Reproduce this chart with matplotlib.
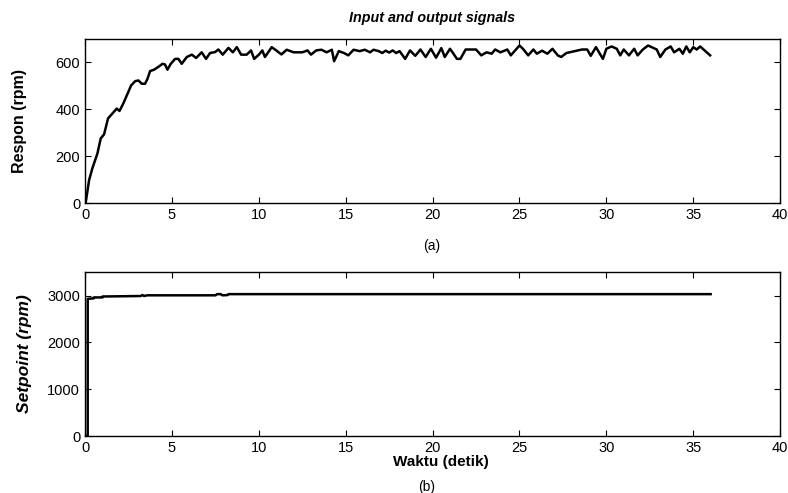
import matplotlib
matplotlib.use("Agg")
import matplotlib.pyplot as plt

plt.rcParams['font.family'] = ['Liberation Sans', 'DejaVu Sans']

# response (rpm)
t_resp = [0.0, 0.04, 0.23, 0.42, 0.71, 0.9, 1.09, 1.32, 1.57, 1.82, 1.98, 2.2, 2.4, 2.65, 2.88,
          3.07, 3.26, 3.45, 3.59, 3.74, 3.97, 4.26, 4.45, 4.6, 4.74, 4.93, 5.18, 5.37, 5.56,
          5.85, 6.14, 6.39, 6.71, 6.96, 7.19, 7.48, 7.67, 7.92, 8.25, 8.5, 8.73, 8.98, 9.3,
          9.55, 9.73, 10.0, 10.2, 10.35, 10.74, 11.0, 11.3, 11.6, 12.0, 12.5, 12.8, 13.0,
          13.3, 13.6, 13.9, 14.2, 14.33, 14.6, 14.9, 15.15, 15.45, 15.8, 16.1, 16.4, 16.6,
          16.9, 17.1, 17.3, 17.5, 17.7, 17.9, 18.1, 18.42, 18.7, 19.0, 19.3, 19.6, 19.9,
          20.2, 20.5, 20.7, 21.0, 21.2, 21.4, 21.6, 21.9, 22.5, 22.8, 23.1, 23.4, 23.6,
          23.9, 24.3, 24.5, 24.8, 25.0, 25.2, 25.5, 25.8, 26.0, 26.3, 26.6, 26.9, 27.2,
          27.4, 27.7, 28.0, 28.3, 28.6, 28.9, 29.1, 29.4, 29.6, 29.8, 30.0, 30.3, 30.6,
          30.8, 31.0, 31.3, 31.6, 31.8, 32.1, 32.4, 32.6, 32.9, 33.1, 33.4, 33.7, 33.9,
          34.2, 34.4, 34.6, 34.8, 35.0, 35.2, 35.4, 35.97]
resp = [0, 5, 98, 149, 212, 276, 293, 361, 382, 403, 393, 425, 459, 502, 520,
        523, 509, 509, 530, 563, 569, 583, 594, 591, 569, 594, 615, 615, 594,
        623, 633, 619, 643, 615, 640, 644, 655, 633, 662, 643, 665, 633, 633,
        651, 615, 633, 651, 623, 665, 651, 634, 654, 643, 643, 651, 633,
        651, 654, 643, 654, 605, 648, 640, 630, 654, 648, 654, 643, 654,
        648, 640, 650, 642, 651, 640, 648, 615, 651, 628, 655, 623, 658,
        620, 661, 623, 658, 637, 615, 615, 655, 655, 630, 643, 637, 655,
        643, 655, 630, 655, 672, 658, 630, 655, 637, 650, 637, 658, 630,
        623, 640, 645, 650, 655, 655, 628, 665, 640, 615, 658, 668, 658,
        630, 655, 630, 658, 630, 655, 672, 665, 655, 623, 655, 668, 643,
        658, 637, 668, 643, 665, 655, 668, 630]

# setpoint (rpm)
t_sp = [0.0, 0.15, 0.15, 0.5, 0.5, 1.0, 1.0, 3.2, 3.3, 3.4, 3.5, 3.6, 7.5, 7.6, 7.8,
        7.9, 8.2, 8.25, 36.0]
sp = [0, 0, 2930, 2940, 2960, 2960, 2980, 2990, 3010, 2990, 3000, 3005, 3005, 3030, 3030,
      3005, 3010, 3030, 3030]

fig = plt.figure(figsize=(7.88, 4.93), dpi=100)
ax1 = fig.add_axes([0.108, 0.588, 0.882, 0.333])
ax2 = fig.add_axes([0.108, 0.1156, 0.882, 0.3324])

ax1.plot(t_resp, resp, color='black', linewidth=1.8)
ax1.set_xlim(0, 40)
ax1.set_ylim(0, 700)
ax1.set_yticks([0, 200, 400, 600])
ax1.set_ylabel('Respon (rpm)', fontsize=11.5, fontweight='bold')
ax1.yaxis.set_label_coords(-0.083, 0.5)
fig.text(0.548, 0.963, 'Input and output signals', fontsize=10.3, fontweight='bold',
         style='italic', ha='center', va='center')
fig.text(0.548, 0.501, '(a)', fontsize=10, ha='center', va='center')

ax2.plot(t_sp, sp, color='black', linewidth=1.8)
ax2.set_xlim(0, 40)
ax2.set_ylim(0, 3500)
ax2.set_yticks([0, 1000, 2000, 3000])
ax2.set_ylabel('Setpoint (rpm)', fontsize=12.5, fontweight='bold', style='italic')
ax2.yaxis.set_label_coords(-0.076, 0.5)
fig.text(0.56, 0.062, 'Waktu (detik)', fontsize=11, fontweight='bold', ha='center', va='center')
fig.text(0.542, 0.012, '(b)', fontsize=10, ha='center', va='center')

for ax in (ax1, ax2):
    ax.tick_params(direction='in', top=True, right=True, labelsize=10.5, length=4, width=0.8, pad=3.5)
    for s in ax.spines.values():
        s.set_linewidth(1.0)

fig.savefig('out.png', dpi=100)
